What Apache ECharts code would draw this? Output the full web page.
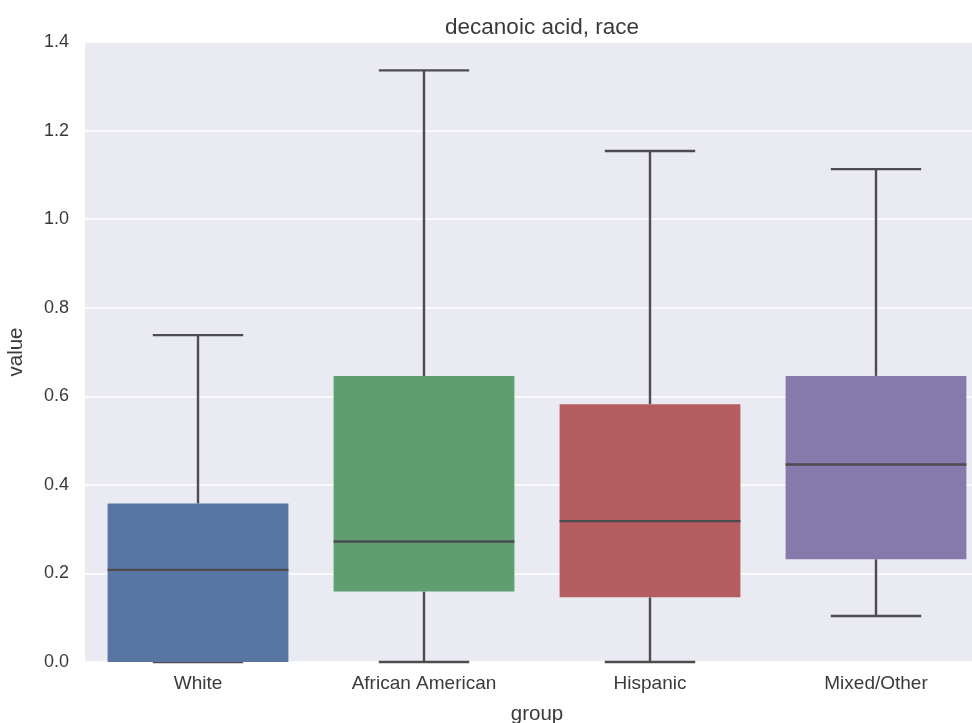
<!DOCTYPE html>
<html>
<head>
<meta charset="utf-8">
<script src="https://cdn.jsdelivr.net/npm/echarts@6/dist/echarts.min.js"></script>
<style>
html,body{margin:0;padding:0;background:#fff;overflow:hidden;width:972px;height:723px;}
#chart{width:1000px;height:723px;}
</style>
</head>
<body>
<div id="chart"></div>
<script>
var categories = ["White", "African American", "Hispanic", "Mixed/Other"];
var whiskerLow = [0.0, 0.0, 0.0, 0.104];
var q1Values = [0.0, 0.159, 0.146, 0.232];
var medianValues = [0.208, 0.272, 0.318, 0.446];
var q3Values = [0.358, 0.646, 0.582, 0.646];
var whiskerHigh = [0.738, 1.336, 1.154, 1.113];
var yTicks = [0.0, 0.2, 0.4, 0.6, 0.8, 1.0, 1.2, 1.4];

var palette = ["#5875a4", "#5f9e6e", "#b55d60", "#857aab"];
var lineColor = "#4b4b50";
var fontFam = "'Liberation Sans', Arial, sans-serif";

var rows = categories.map(function (c, i) {
  return [i, whiskerLow[i], q1Values[i], medianValues[i], q3Values[i], whiskerHigh[i]];
});

var chart = echarts.init(document.getElementById('chart'), null, {renderer: 'canvas'});
chart.setOption({
  animation: false,
  backgroundColor: '#ffffff',
  title: {
    text: 'decanoic acid, race',
    left: 537, top: 11, textAlign: 'center',
    textStyle: {fontFamily: fontFam, fontSize: 22.5, fontWeight: 'normal', color: '#3a3a3a'}
  },
  grid: {left: 85, top: 42, width: 904, height: 620, show: true, backgroundColor: '#eaeaf2',
    borderWidth: 0, outerBoundsMode: 'none', containLabel: false},
  xAxis: {
    type: 'category',
    data: categories,
    name: 'group',
    nameLocation: 'middle',
    nameGap: 42,
    nameTextStyle: {fontFamily: fontFam, fontSize: 20.5, color: '#3a3a3a'},
    axisLine: {show: false},
    axisTick: {show: false},
    axisLabel: {fontFamily: fontFam, fontSize: 19, color: '#3a3a3a', margin: 12},
    splitLine: {show: false}
  },
  yAxis: {
    type: 'value',
    min: 0, max: 1.4, interval: 0.2,
    name: 'value',
    nameLocation: 'middle',
    nameGap: 58,
    nameTextStyle: {fontFamily: fontFam, fontSize: 20.5, color: '#3a3a3a'},
    axisLine: {show: false},
    axisTick: {show: false},
    axisLabel: {fontFamily: fontFam, fontSize: 18, color: '#3a3a3a', margin: 16,
      formatter: function (v) { return v.toFixed(1); }},
    splitLine: {show: true, lineStyle: {color: '#ffffff', width: 1.5}}
  },
  series: [{
    type: 'custom',
    data: rows,
    encode: {x: 0, y: [1, 2, 3, 4, 5]},
    clip: false,
    renderItem: function (params, api) {
      var idx = api.value(0);
      var band = api.size([1, 0])[0];
      var bw = band * 0.8;
      var cw = bw * 0.5;
      var cx = api.coord([idx, 0])[0];
      var yMin = api.coord([idx, api.value(1)])[1];
      var yQ1 = api.coord([idx, api.value(2)])[1];
      var yMed = api.coord([idx, api.value(3)])[1];
      var yQ3 = api.coord([idx, api.value(4)])[1];
      var yMax = api.coord([idx, api.value(5)])[1];
      var ls = {stroke: lineColor, lineWidth: 2.4, fill: null};
      return {
        type: 'group',
        children: [
          {type: 'line', shape: {x1: cx, y1: yQ3, x2: cx, y2: yMax}, style: ls},
          {type: 'line', shape: {x1: cx, y1: yQ1, x2: cx, y2: yMin}, style: ls},
          {type: 'line', shape: {x1: cx - cw / 2, y1: yMax, x2: cx + cw / 2, y2: yMax}, style: ls},
          {type: 'line', shape: {x1: cx - cw / 2, y1: yMin, x2: cx + cw / 2, y2: yMin}, style: ls},
          {type: 'rect', shape: {x: cx - bw / 2, y: yQ3, width: bw, height: Math.max(yQ1 - yQ3, 0)},
            style: {fill: palette[idx % palette.length], stroke: null}},
          {type: 'line', shape: {x1: cx - bw / 2, y1: yMed, x2: cx + bw / 2, y2: yMed}, style: ls}
        ]
      };
    }
  }]
});
</script>
</body>
</html>
